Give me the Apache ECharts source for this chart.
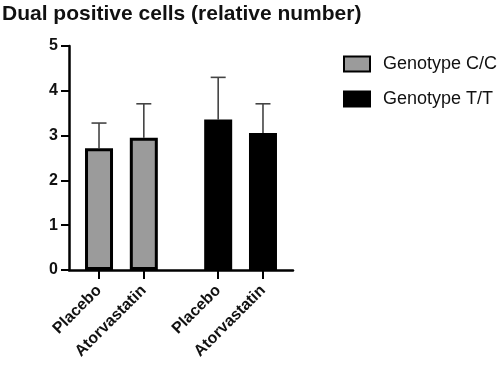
<!DOCTYPE html>
<html>
<head>
<meta charset="utf-8">
<script src="https://cdn.jsdelivr.net/npm/echarts@6/dist/echarts.min.js"></script>
<style>
  html, body { margin: 0; padding: 0; background: #fff; }
  #main { width: 498px; height: 365px; }
</style>
</head>
<body>
<div id="main"></div>
<script>
// data
var categories = ['Placebo', 'Atorvastatin', 'Placebo', 'Atorvastatin'];
var x_positions = [0.67, 1.67, 3.33, 4.33];
var cc_means = [2.72, 2.95];
var cc_upper = [3.28, 3.71];
var tt_means = [3.36, 3.06];
var tt_upper = [4.30, 3.71];

var chart = echarts.init(document.getElementById('main'));

var font = '"Liberation Sans", Arial, sans-serif';

var cc_data = [[x_positions[0], cc_means[0]], [x_positions[1], cc_means[1]]];
var tt_data = [[x_positions[2], tt_means[0]], [x_positions[3], tt_means[1]]];
var err_data = [
    [x_positions[0], cc_means[0], cc_upper[0]],
    [x_positions[1], cc_means[1], cc_upper[1]],
    [x_positions[2], tt_means[0], tt_upper[0]],
    [x_positions[3], tt_means[1], tt_upper[1]]
];

function label_for(v) {
    for (var i = 0; i < x_positions.length; i++) {
        if (Math.abs(x_positions[i] - v) < 0.01) return categories[i];
    }
    return '';
}

var option = {
    animation: false,
    title: {
        text: 'Dual positive cells (relative number)',
        left: 0,
        top: 2,
        padding: [2, 2],
        textStyle: { fontFamily: font, fontSize: 21, fontWeight: 'bold', color: '#111' }
    },
    legend: {
        orient: 'vertical',
        left: 343,
        top: 55,
        padding: 0,
        itemWidth: 26,
        itemHeight: 15,
        itemGap: 17,
        icon: 'rect',
        textStyle: { fontFamily: font, fontSize: 18, color: '#111', padding: [0, 0, 0, 8] },
        data: ['Genotype C/C', 'Genotype T/T']
    },
    grid: { left: 69, top: 46, right: 205, bottom: 95 },
    xAxis: {
        type: 'value',
        min: 0,
        max: 5,
        splitLine: { show: false },
        axisLine: { show: true, onZero: false, lineStyle: { color: '#000', width: 2.5 } },
        axisTick: { show: true, customValues: x_positions, length: 9, lineStyle: { color: '#000', width: 2 } },
        axisLabel: {
            customValues: x_positions,
            formatter: label_for,
            rotate: 45,
            margin: 18,
            fontFamily: font,
            fontSize: 16,
            fontWeight: 'bold',
            color: '#111'
        }
    },
    yAxis: {
        type: 'value',
        min: 0,
        max: 5,
        interval: 1,
        splitLine: { show: false },
        axisLine: { show: true, lineStyle: { color: '#000', width: 2.5 } },
        axisTick: { show: true, length: 8, lineStyle: { color: '#000', width: 2 } },
        axisLabel: { margin: 11, fontFamily: font, fontSize: 16, fontWeight: 'bold', color: '#111' }
    },
    series: [
        {
            name: 'Genotype C/C',
            type: 'bar',
            barWidth: 28,
            barGap: '-100%',
            itemStyle: { color: '#9b9b9b', borderColor: '#000', borderWidth: 3 },
            data: cc_data
        },
        {
            name: 'Genotype T/T',
            type: 'bar',
            barWidth: 28,
            barGap: '-100%',
            itemStyle: { color: '#000', borderColor: '#000', borderWidth: 3 },
            data: tt_data
        },
        {
            type: 'custom',
            z: 1,
            renderItem: function (params, api) {
                var base = api.coord([api.value(0), api.value(1)]);
                var top = api.coord([api.value(0), api.value(2)]);
                var half = 7.5;
                var style = { stroke: '#444', lineWidth: 1.6 };
                return {
                    type: 'group',
                    children: [
                        { type: 'line', shape: { x1: base[0], y1: base[1], x2: top[0], y2: top[1] }, style: style },
                        { type: 'line', shape: { x1: top[0] - half, y1: top[1], x2: top[0] + half, y2: top[1] }, style: style }
                    ]
                };
            },
            encode: { x: 0, y: [1, 2] },
            data: err_data
        }
    ]
};

chart.setOption(option);
</script>
</body>
</html>
